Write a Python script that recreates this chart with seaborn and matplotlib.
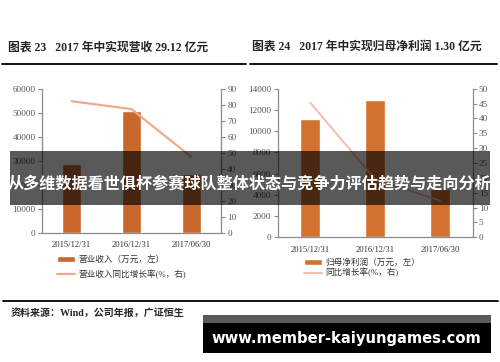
import numpy as np
import pandas as pd
import matplotlib
matplotlib.use("Agg")
import matplotlib.pyplot as plt
from matplotlib.patches import Rectangle
from matplotlib.lines import Line2D
import seaborn as sns

sns.set_theme(style="white")
plt.rcParams['font.family'] = ['Liberation Serif', 'Noto Sans CJK SC', 'DejaVu Sans']
plt.rcParams['axes.unicode_minus'] = False

# ---------------- data ----------------
categories = ["2015/12/31", "2016/12/31", "2017/06/30"]
revenue = [28500, 50800, 24500]            # 万元
revenue_growth = [82.2, 77.3, 47.5]        # %
profit = [11100, 12900, 4550]              # 万元
profit_growth = [45.3, 19.5, 12.3]         # %

left_ticks = [0, 10000, 20000, 30000, 40000, 50000, 60000]
left_rticks = [0, 10, 20, 30, 40, 50, 60, 70, 80, 90]
right_ticks = [0, 2000, 4000, 6000, 8000, 10000, 12000, 14000]
right_rticks = [0, 5, 10, 15, 20, 25, 30, 35, 40, 45, 50]

title_left = "图表 23   2017 年中实现营收 29.12 亿元"
title_right = "图表 24   2017 年中实现归母净利润 1.30 亿元"
leg_left = ["营业收入（万元，左）", "营业收入同比增长率(%，右)"]
leg_right = ["归母净利润（万元，左）", "同比增长率(%，右)"]
source = "资料来源：Wind，公司年报，广证恒生"
banner = "从多维数据看世俱杯参赛球队整体状态与竞争力评估趋势与走向分析"
watermark = "www.member-kaiyungames.com"

W, H = 500, 362
fig = plt.figure(figsize=(W / 100, H / 100), dpi=100)
fig.patch.set_facecolor("white")

bar_col_l = "#C8692B"
bar_col_r = "#D3722F"
line_col_l = "#F2A88E"
line_col_r = "#F5B9A6"
spine_col = "#8C8C8C"
tick_col = "#555555"


def fx(px):
    return px / W


def fy(py):
    return 1 - py / H


def make_chart(x0, x1, y_top, y_bot, vals, growth, yt, yrt, bcol, lcol, lw, barw):
    ax = fig.add_axes([fx(x0), fy(y_bot), fx(x1 - x0), (y_bot - y_top) / H])
    df = pd.DataFrame({"cat": categories, "val": vals})
    sns.barplot(data=df, x="cat", y="val", color=bcol, width=barw,
                saturation=1, ax=ax, zorder=2)
    ax.set_xlim(-0.5, 2.5)
    ax.set_ylim(yt[0], yt[-1])
    ax.set_yticks(yt)
    ax.set_yticklabels([str(t) for t in yt])
    ax.set_xlabel("")
    ax.set_ylabel("")
    ax2 = ax.twinx()
    gdf = pd.DataFrame({"pos": np.arange(len(categories)), "g": growth})
    sns.lineplot(data=gdf, x="pos", y="g", color=lcol, lw=lw, ax=ax2, zorder=3)
    ax2.set_ylim(yrt[0], yrt[-1])
    ax2.set_yticks(yrt)
    ax2.set_yticklabels([str(t) for t in yrt])
    ax2.set_xlim(-0.5, 2.5)
    ax2.set_ylabel("")
    ax2.set_xlabel("")
    for a in (ax, ax2):
        for s in a.spines.values():
            s.set_visible(False)
    ax.spines["left"].set_visible(True)
    ax.spines["bottom"].set_visible(True)
    ax2.spines["right"].set_visible(True)
    for s in (ax.spines["left"], ax.spines["bottom"], ax2.spines["right"]):
        s.set_color(spine_col)
        s.set_linewidth(0.9)
    ax.tick_params(axis="y", direction="out", length=3, width=0.8, color=spine_col,
                   labelsize=6.6, labelcolor=tick_col, pad=1.5, left=True)
    ax2.tick_params(axis="y", direction="out", length=3, width=0.8, color=spine_col,
                    labelsize=6.6, labelcolor=tick_col, pad=1.5, right=True)
    ax.tick_params(axis="x", length=0, labelsize=6.2, labelcolor="#333333", pad=6)
    ax.set_facecolor("none")
    ax2.set_facecolor("none")
    ax.grid(False)
    ax2.grid(False)
    return ax, ax2


axL, axL2 = make_chart(41.7, 221, 88.7, 233, revenue, revenue_growth,
                       left_ticks, left_rticks, bar_col_l, line_col_l, 1.6, 0.32)
axR, axR2 = make_chart(277.7, 472.7, 88.7, 237.3, profit, profit_growth,
                       right_ticks, right_rticks, bar_col_r, line_col_r, 1.3, 0.31)

# legends
for ax, ax2, labels, (lx, ly), lsp, bcol, lcol in [
    (axL, axL2, leg_left, (56.7, 255.5), 0.62, bar_col_l, line_col_l),
    (axR, axR2, leg_right, (304, 258.5), 0.12, bar_col_r, line_col_r),
]:
    bar_h = ax.patches[0]
    line_h = ax2.lines[0]
    leg = ax2.legend([bar_h, line_h], labels, loc="upper left",
                     bbox_to_anchor=(fx(lx), fy(ly)), bbox_transform=fig.transFigure,
                     frameon=False, fontsize=6.2, handlelength=2.1, handletextpad=0.4,
                     labelspacing=lsp, borderpad=0, borderaxespad=0)
    for t in leg.get_texts():
        t.set_color("#333333")

# titles and rules
fig.text(fx(8), fy(48), title_left, fontsize=8.5, fontweight="bold", va="center", ha="left")
fig.text(fx(252), fy(48), title_right, fontsize=8.5, fontweight="bold", va="center", ha="left")
fig.add_artist(Line2D([fx(2), fx(246)], [fy(64.3), fy(64.3)], color="black", lw=1.3))
fig.add_artist(Line2D([fx(250), fx(497)], [fy(64.3), fy(64.3)], color="black", lw=1.3))
fig.add_artist(Line2D([fx(3), fx(498)], [fy(300.7), fy(300.7)], color="black", lw=1.3))
fig.text(fx(11), fy(313), source, fontsize=7.2, fontweight="bold", va="center", ha="left")

# central banner overlay
fig.add_artist(Rectangle((fx(10), fy(205)), fx(480), 54 / H, transform=fig.transFigure,
                         facecolor="black", alpha=0.65, edgecolor="none", zorder=10))
fig.text(0.5, fy(184), banner, fontsize=11.6, fontweight="bold", color="white",
         ha="center", va="center", zorder=11,
         family=["Noto Sans CJK SC", "DejaVu Sans"])

# watermark box
fig.add_artist(Rectangle((fx(203), fy(323)), fx(288), 8 / H, transform=fig.transFigure,
                         facecolor="#5a5a5a", edgecolor="none", zorder=10))
fig.add_artist(Rectangle((fx(203), fy(353)), fx(288), 30 / H, transform=fig.transFigure,
                         facecolor="black", edgecolor="none", zorder=10))
fig.text(fx(346.5), fy(338), watermark, fontsize=10.6, fontweight="bold", color="white",
         ha="center", va="center", zorder=11, family=["DejaVu Sans"])

fig.savefig("out.png", dpi=100)
